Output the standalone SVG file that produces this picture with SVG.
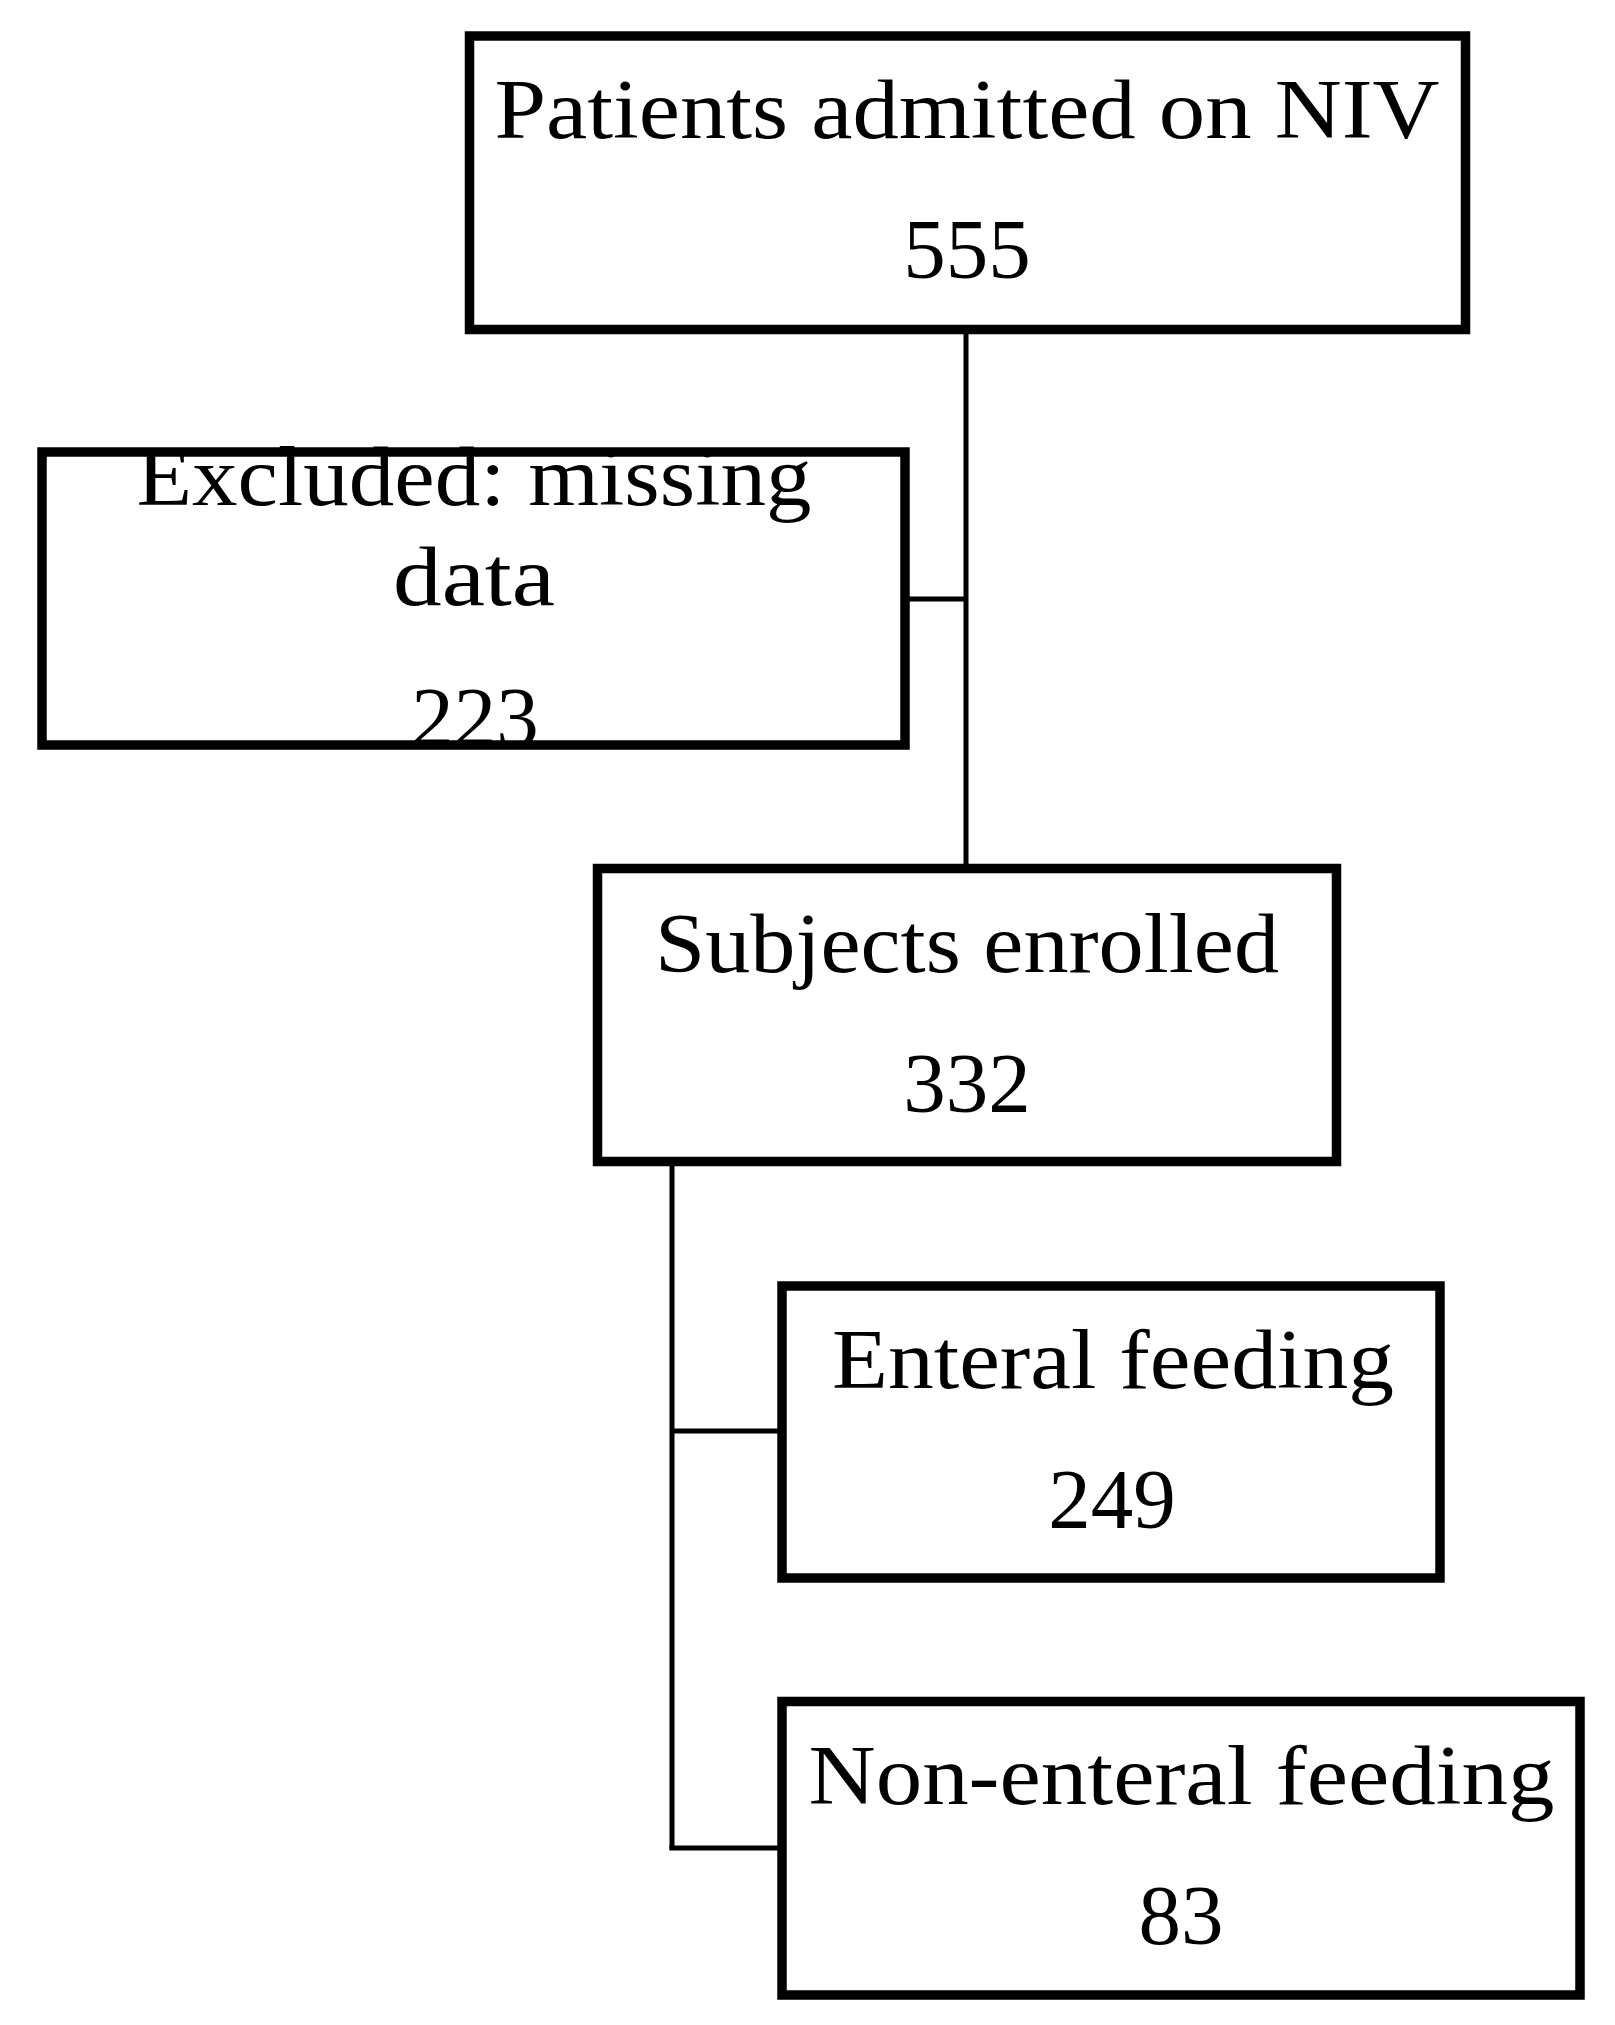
<svg xmlns="http://www.w3.org/2000/svg" width="1615" height="2025" viewBox="0 0 1615 2025">
<style>
.box{fill:#fff;stroke:#000;stroke-width:9.5}
.lbl{font-family:"Liberation Serif","Times New Roman",serif;font-size:85px;fill:#000;text-anchor:middle}
.conn{fill:none;stroke:#000;stroke-width:5}
</style>
<rect width="1615" height="2025" fill="#fff"/>
<g id="connectors">
<line class="conn" x1="966" y1="329" x2="966" y2="869"/>
<line class="conn" x1="905" y1="599" x2="966" y2="599"/>
<line class="conn" x1="672" y1="1161" x2="672" y2="1850"/>
<line class="conn" x1="672" y1="1431" x2="782" y2="1431"/>
<line class="conn" x1="669.5" y1="1848" x2="782" y2="1848"/>
</g>
<g id="node-admitted">
<rect class="box" x="469.5" y="36" width="996" height="293.5"/>
<text class="lbl" x="967" y="138" textLength="945" lengthAdjust="spacingAndGlyphs">Patients admitted on NIV</text>
<text class="lbl" x="967" y="278">555</text>
</g>
<g id="node-excluded">
<rect class="box" x="42" y="452" width="863" height="293"/>
<text class="lbl" x="474" y="505" textLength="675" lengthAdjust="spacingAndGlyphs">Excluded: missing</text>
<text class="lbl" x="474" y="605" textLength="162" lengthAdjust="spacingAndGlyphs">data</text>
<text class="lbl" x="475" y="746">223</text>
</g>
<g id="node-enrolled">
<rect class="box" x="597.5" y="868.5" width="739" height="293"/>
<text class="lbl" x="967" y="972" textLength="624" lengthAdjust="spacingAndGlyphs">Subjects enrolled</text>
<text class="lbl" x="967" y="1112">332</text>
</g>
<g id="node-enteral">
<rect class="box" x="782" y="1286" width="658" height="292"/>
<text class="lbl" x="1113" y="1388" textLength="562" lengthAdjust="spacingAndGlyphs">Enteral feeding</text>
<text class="lbl" x="1112" y="1528">249</text>
</g>
<g id="node-nonenteral">
<rect class="box" x="782" y="1701.5" width="798" height="293.5"/>
<text class="lbl" x="1181.5" y="1804" textLength="746" lengthAdjust="spacingAndGlyphs">Non-enteral feeding</text>
<text class="lbl" x="1181" y="1944">83</text>
</g>
</svg>
